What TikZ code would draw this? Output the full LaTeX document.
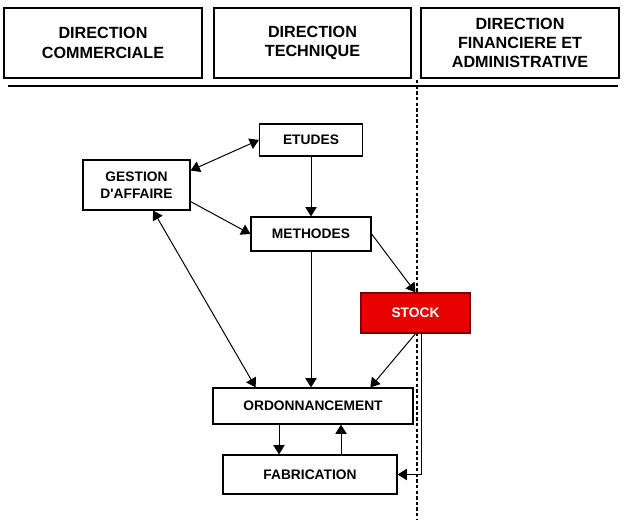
\documentclass[tikz,border=0pt]{standalone}
\usepackage{fontspec}
\setmainfont{Liberation Sans}
\usepackage{tikz}
\usetikzlibrary{arrows.meta}
\definecolor{StockRed}{HTML}{E60000}
\definecolor{StockEdge}{HTML}{7A0000}

\begin{document}
\begin{tikzpicture}[x=0.025cm, y=-0.025cm,
    direction/.style={draw, line width=1pt, inner sep=0pt, minimum width=4.95cm, minimum height=1.75cm,
      align=center, font=\fontsize{11.5}{13.8}\selectfont\bfseries},
    service/.style={draw, line width=0.9pt, inner sep=0pt, align=center,
      font=\fontsize{9.8}{12.4}\selectfont\bfseries},
    arr/.style={line width=0.7pt, -{Triangle[length=6.5pt,width=8pt]}},
    darr/.style={line width=0.7pt, {Triangle[length=6.5pt,width=8pt]}-{Triangle[length=6.5pt,width=8pt]}}]
      \useasboundingbox (0,0) rectangle (630,528);

      % Three directions
      \node[direction] (dcom) at (103,43) {DIRECTION\\COMMERCIALE};
      \node[direction, minimum width=4.925cm] (dtech) at (312.5,43) {DIRECTION\\TECHNIQUE};
      \node[direction] (dfin) at (520,43) {DIRECTION\\FINANCIERE ET\\ADMINISTRATIVE};

      % Separators
      \coordinate (hl) at (8,86);
      \coordinate (hr) at (618,86);
      \draw[line width=1.3pt] (hl) -- (hr);
      \coordinate (vt) at (417,80);
      \coordinate (vb) at (417,520);
      \draw[line width=0.75pt, dash pattern=on 2.4pt off 1.6pt] (vt) -- (vb);

      % Services
      \node[service, minimum width=2.575cm, minimum height=0.8cm] (etudes) at (311,140) {ETUDES};
      \node[service, minimum width=2.675cm, minimum height=1.25cm] (gestion) at (136.5,185) {GESTION\\D\textquotesingle AFFAIRE};
      \node[service, minimum width=3cm, minimum height=0.85cm] (methodes) at (311,234) {METHODES};
      \node[service, fill=StockRed, draw=StockEdge, text=white, minimum width=2.725cm, minimum height=1cm] (stock) at (415.5,313) {STOCK};
      \node[service, minimum width=5cm, minimum height=0.9cm] (ordo) at (313,406) {ORDONNANCEMENT};
      \node[service, minimum width=4.35cm, minimum height=0.975cm] (fab) at (310,474.5) {FABRICATION};

      % Flows
      \draw[darr] (gestion.15) -- (etudes.west);
      \draw[arr] (gestion.343) -- (methodes.west);
      \draw[arr] (etudes.south) -- (methodes.north);
      \draw[arr] (methodes.east) -- (stock.north);
      \draw[darr] (gestion.303) -- (ordo.162);
      \draw[arr] (methodes.south) -- (methodes.south |- ordo.north);
      \draw[arr] (stock.south) -- (ordo.18);
      \draw[arr] ([xshift=-0.85cm]ordo.south) -- ([xshift=-0.85cm]ordo.south |- fab.north);
      \draw[arr] ([xshift=0.7cm]ordo.south |- fab.north) -- ([xshift=0.7cm]ordo.south);
      \draw[arr] ([xshift=0.16cm]stock.south) |- (fab.east);

    \end{tikzpicture}
\end{document}
